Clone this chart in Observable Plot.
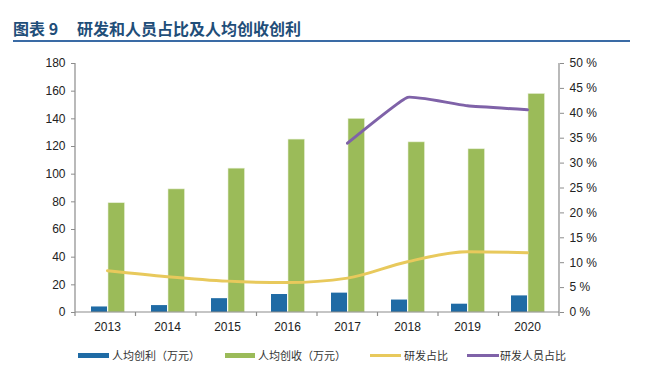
<!DOCTYPE html>
<html>
<head>
<meta charset="utf-8">
<script src="https://cdn.jsdelivr.net/npm/d3@7"></script>
<script src="https://cdn.jsdelivr.net/npm/@observablehq/plot@0.6"></script>
<style>
  html, body { margin: 0; padding: 0; background: #fff; }
  #wrap { position: relative; width: 648px; height: 371px; overflow: hidden; background: #fff; }
  .ttl { position: absolute; top: 18px; font: bold 16px "Noto Sans CJK SC", sans-serif; color: #1F4E79; line-height: 20px; white-space: nowrap; }
  #rule { position: absolute; top: 40px; left: 13px; width: 617px; height: 2px; background: #3A6BA5; }
  #chart { position: absolute; top: 50px; left: 0; }
  .lg { position: absolute; font: 11px "Noto Sans CJK SC", sans-serif; color: #333; line-height: 14px; top: 348px; white-space: nowrap; }
  .sw { position: absolute; }
</style>
</head>
<body>
<div id="wrap">
  <div class="ttl" style="left:13px">图表 9</div>
  <div class="ttl" style="left:77px">研发和人员占比及人均创收创利</div>
  <div id="rule"></div>
  <div id="chart"></div>
  <div id="legend"></div>
</div>
<script>
const years = ["2013", "2014", "2015", "2016", "2017", "2018", "2019", "2020"];
const profitPerCapita = [4, 5, 10, 13, 14, 9, 6, 12];          // 人均创利（万元）
const revenuePerCapita = [79, 89, 104, 125, 140, 123, 118, 158]; // 人均创收（万元）
const rdRatio = [8.4, 7.2, 6.3, 6.0, 6.9, 10.2, 12.2, 12.0];     // 研发占比 (%)
const rdStaffRatio = [null, null, null, null, 34.0, 43.2, 41.5, 40.7]; // 研发人员占比 (%)
const leftTicks = [0, 20, 40, 60, 80, 100, 120, 140, 160, 180];
const rightTicks = [0, 5, 10, 15, 20, 25, 30, 35, 40, 45, 50];
const seriesNames = ["人均创利（万元）", "人均创收（万元）", "研发占比", "研发人员占比"];
const colors = ["#1F6BA5", "#9BBB59", "#E8C95C", "#7F62A8"];

const leftMax = 180, rightMax = 50, k = leftMax / rightMax;

const bars = years.map((y, i) => ({year: y, profit: profitPerCapita[i], revenue: revenuePerCapita[i]}));
const rdLine = years.map((y, i) => ({year: y, v: rdRatio[i] * k}));
const staffLine = years.map((y, i) => ({year: y, v: rdStaffRatio[i] == null ? null : rdStaffRatio[i] * k})).filter(d => d.v != null);

function axisLines(index, scales, values, dims) {
  const g = d3.create("svg:g").attr("stroke", "#8C8C8C").attr("fill", "none").attr("stroke-width", 1.2);
  const x0 = dims.marginLeft, x1 = dims.width - dims.marginRight;
  const y0 = dims.height - dims.marginBottom, y1 = dims.marginTop;
  g.append("path").attr("d", `M${x0},${y1}V${y0}H${x1}V${y1}`);
  const bw = (x1 - x0) / years.length;
  for (let i = 0; i <= years.length; i++) {
    const xx = x0 + i * bw;
    g.append("path").attr("d", `M${xx},${y0}V${y0 + 4}`);
  }
  return g.node();
}

const chart = Plot.plot({
  width: 648,
  height: 290,
  marginTop: 13,
  marginBottom: 28,
  marginLeft: 75,
  marginRight: 89,
  style: {fontFamily: "'Liberation Sans', Arial, sans-serif", fontSize: "12px", color: "#222", background: "transparent"},
  x: {type: "band", domain: years, padding: 0, axis: null},
  y: {domain: [0, leftMax], axis: null},
  marks: [
    Plot.barY(bars, {x: "year", y: "profit", fill: colors[0], insetLeft: 14, insetRight: 30}),
    Plot.barY(bars, {x: "year", y: "revenue", fill: colors[1], stroke: "#E6EFD6", strokeWidth: 0.6, insetLeft: 31, insetRight: 12.5}),
    Plot.line(rdLine, {x: "year", y: "v", stroke: colors[2], strokeWidth: 3, curve: "monotone-x"}),
    Plot.line(staffLine, {x: "year", y: "v", stroke: colors[3], strokeWidth: 3, curve: "cardinal", tension: 0.7}),
    axisLines,
    Plot.axisY(leftTicks, {anchor: "left", tickSize: 4, tickPadding: 6, stroke: "#8C8C8C", fill: "#222", label: null}),
    Plot.axisY(rightTicks.map(v => v * k), {anchor: "right", tickSize: 4, tickPadding: 6, stroke: "#8C8C8C", fill: "#222", label: null,
      tickFormat: (d, i) => rightTicks[i] + " %"}),
    Plot.axisX(years, {anchor: "bottom", tickSize: 0, tickPadding: 10, fill: "#222", label: null})
  ]
});
document.getElementById("chart").appendChild(chart);

// legend
const legend = document.getElementById("legend");
const items = [
  {sw: [78, 31], tx: 112, type: "rect"},
  {sw: [225, 30], tx: 258, type: "rect"},
  {sw: [370, 31], tx: 404, type: "line"},
  {sw: [467, 32], tx: 500, type: "line"}
];
items.forEach((it, i) => {
  const s = document.createElement("div");
  s.className = "sw";
  const h = it.type === "rect" ? 5 : 3;
  s.style.left = it.sw[0] + "px";
  s.style.width = it.sw[1] + "px";
  s.style.top = (355 - h / 2) + "px";
  s.style.height = h + "px";
  s.style.background = colors[i];
  legend.appendChild(s);
  const t = document.createElement("div");
  t.className = "lg";
  t.style.left = it.tx + "px";
  t.textContent = seriesNames[i];
  legend.appendChild(t);
});
</script>
</body>
</html>
